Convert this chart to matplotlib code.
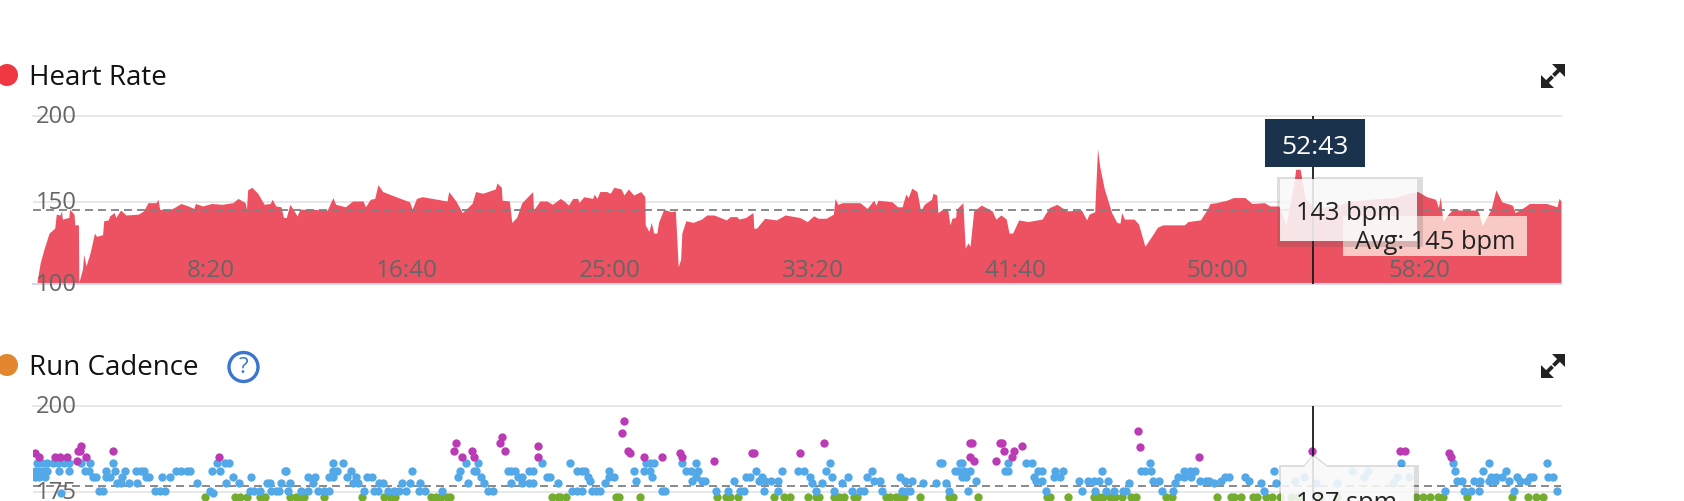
import numpy as np
import matplotlib
matplotlib.use("Agg")
import matplotlib.pyplot as plt
from matplotlib.patches import Circle, Polygon, Rectangle
from matplotlib.transforms import ScaledTranslation

plt.rcParams['font.family'] = ['Open Sans', 'DejaVu Sans']

W, H = 1684, 502
RED = "#ec5261"
GREY_TXT = "#666666"
GRID = "#e8e8e8"

# x tick labels, in seconds
tick_secs = [499, 985, 1490, 1995, 2499, 3003, 3505]
tick_labels = ["8:20", "16:40", "25:00", "33:20", "41:40", "50:00", "58:20"]
cursor_sec = 3239
avg_hr = 145
avg_cadence = 176.7

# heart rate
hr_t = [65, 74, 83, 96, 110, 114, 123, 127, 129, 145, 147, 158, 160, 169, 170, 179, 182, 188, 198, 209,
        214, 229, 232, 243, 247, 258, 262, 274, 287, 318, 331, 342, 362, 367, 371, 393, 407, 424, 442, 456,
        460, 478, 500, 526, 553, 566, 584, 587, 590, 600, 615, 631, 646, 651, 660, 673, 679, 686, 695, 713,
        720, 748, 788, 802, 809, 833, 851, 877, 883, 895, 906, 914, 926, 953, 993, 999, 1010, 1024, 1086, 1090,
        1108, 1117, 1124, 1148, 1157, 1175, 1206, 1210, 1221, 1223, 1241, 1247, 1259, 1272, 1299, 1301, 1317, 1334, 1348, 1368,
        1377, 1388, 1399, 1411, 1414, 1426, 1448, 1452, 1459, 1466, 1483, 1492, 1501, 1519, 1526, 1537, 1550, 1568, 1578, 1579,
        1588, 1594, 1600, 1608, 1612, 1625, 1643, 1654, 1661, 1667, 1670, 1680, 1698, 1719, 1732, 1750, 1781, 1790, 1807, 1812,
        1829, 1847, 1849, 1856, 1876, 1905, 1927, 1963, 1982, 1998, 2009, 2029, 2047, 2051, 2058, 2069, 2113, 2131, 2147, 2153,
        2158, 2193, 2207, 2218, 2227, 2233, 2242, 2255, 2264, 2273, 2291, 2295, 2304, 2307, 2322, 2331, 2337, 2342, 2351, 2353,
        2369, 2375, 2382, 2387, 2396, 2415, 2442, 2451, 2464, 2477, 2484, 2493, 2508, 2531, 2566, 2584, 2603, 2628, 2664, 2677,
        2683, 2697, 2704, 2710, 2721, 2739, 2752, 2760, 2764, 2771, 2795, 2806, 2822, 2840, 2853, 2866, 2920, 2929, 2960, 2977,
        2984, 3000, 3026, 3042, 3053, 3071, 3088, 3119, 3133, 3155, 3173, 3193, 3197, 3208, 3221, 3244, 3293, 3337, 3381, 3443,
        3479, 3501, 3523, 3545, 3552, 3557, 3563, 3576, 3590, 3603, 3648, 3652, 3661, 3683, 3695, 3710, 3736, 3743, 3767, 3778,
        3821, 3847, 3852, 3857]
hr_v = [100, 113, 121, 131, 134, 142.5, 142, 144.5, 139.5, 140.5, 145.5, 142.5, 136, 136, 101, 109, 118, 111, 119, 131,
        129, 130, 138.5, 139, 141.5, 143.5, 140.5, 145, 142, 142.5, 144.5, 149.5, 149.5, 151.5, 145.5, 145, 146.5, 149, 147.5, 146,
        149, 147.5, 149, 148.5, 149.5, 152, 149.5, 145.5, 157, 158.5, 155, 148.5, 149, 151.5, 147.5, 147, 140.5, 140.5, 148.5, 141.5,
        145.5, 145.5, 145, 152.5, 148.5, 147, 150.5, 150.5, 147, 151.5, 152, 160, 156, 153.5, 150, 145.5, 152, 153, 150.5, 156,
        150.5, 146.5, 143.5, 149, 156, 155, 157.5, 161, 158.5, 151, 150.5, 137.5, 140.5, 149.5, 156, 145, 150.5, 150.5, 148.5, 152,
        150.5, 148, 152, 152, 149.5, 153, 152, 154.5, 152, 156, 156, 155, 158.5, 157.5, 154, 157.5, 154, 156, 153, 136,
        132, 137.5, 131, 131, 137.5, 145.5, 144, 144.5, 110.5, 115, 131, 138.5, 137.5, 139.5, 142, 142, 139, 141, 141, 139.5,
        140.5, 143.5, 134, 134, 140, 139, 142, 140.5, 138, 141.5, 140, 140, 142.5, 152, 148.5, 149.5, 149.5, 146, 151, 148,
        151, 150, 147, 147, 154.5, 152.5, 158, 156, 144.5, 148.5, 151.5, 155, 154, 143.5, 146, 146, 136, 140, 140.5, 145.5,
        149.5, 122, 125, 123, 144.5, 148, 144.5, 139.5, 142, 139.5, 131, 131, 139, 138, 139.5, 146.5, 148.5, 144.5, 145, 139,
        142.5, 144, 181, 170, 157.5, 143.5, 137.5, 137, 143.5, 139.5, 139.5, 136.5, 123, 129.5, 134.5, 136, 136, 138, 139, 145.5,
        149, 149.5, 151, 152.5, 152.5, 152.5, 149, 149.5, 147.5, 147.5, 136, 161.5, 169, 169, 151.5, 146.5, 147.5, 150.5, 151.5, 152.5,
        155, 156, 153, 151.5, 146.5, 153, 138, 142.5, 146, 145, 145, 143.5, 135.5, 145.5, 157, 150, 148, 143.5, 147, 149,
        149, 147, 152, 150.5]

# cadence dots
purple_t = [61, 71, 110, 123, 141, 165, 169, 175, 173, 189, 254, 518, 1109, 1104, 1124, 1149, 1154, 1223, 1218, 1229,
            1313, 1313, 1527, 1522, 1537, 1542, 1577, 1621, 1665, 1671, 1750, 1845, 1850, 1964, 2024, 2386, 2391, 2386, 2397, 2461,
            2467, 2471, 2496, 2491, 2451, 2516, 2804, 2809, 2957, 3238, 3457, 3470, 3578, 3584]
purple_v = [186.3, 185.2, 185.2, 185.2, 185.2, 184, 186.9, 188.2, 186.9, 185.2, 186.9, 185.2, 189.2, 186.9, 185.2, 186.9, 185.2, 191, 189.2, 186.9,
            188.2, 185.2, 195.6, 192.2, 186.9, 186.2, 185.2, 185.2, 186.3, 185.2, 184, 186.3, 186.3, 186.3, 189.2, 189.2, 189.2, 185.2, 184, 189.2,
            189.2, 186.9, 186.9, 185.2, 184, 188.2, 192.7, 188.1, 185.2, 186.9, 186.9, 186.9, 186.3, 185.2]

blue_183 = [65, 78, 92, 105, 118, 132, 145, 176, 198, 254, 513, 533, 544, 802, 826, 1134, 1164, 1323, 1393, 1581,
            1590, 1601, 1671, 1705, 2038, 2313, 2318, 2362, 2366, 2482, 2526, 2540, 2834, 3460, 3588, 3678, 3821]
blue_181 = [61, 70, 83, 92, 120, 145, 185, 196, 238, 260, 284, 312, 324, 331, 411, 424, 438, 447, 502, 522,
            682, 686, 802, 811, 846, 1000, 1119, 1157, 1152, 1237, 1245, 1254, 1299, 1290, 1408, 1421, 1428, 1488, 1552, 1577,
            1590, 1680, 1692, 1711, 1854, 1919, 1958, 1974, 2029, 2143, 2349, 2358, 2371, 2386, 2475, 2482, 2557, 2566, 2599, 2619,
            2714, 2813, 2822, 2838, 2918, 2933, 2946, 3144, 3337, 3377, 3594, 3663, 3721]
blue_179 = [61, 70, 87, 212, 205, 247, 238, 278, 345, 336, 378, 398, 553, 598, 740, 757, 802, 793, 837, 859,
            886, 899, 1114, 1170, 1272, 1263, 1334, 1343, 1437, 1501, 1490, 1596, 1705, 1829, 1840, 1869, 1989, 2043, 2083, 2131,
            2213, 2366, 2378, 2546, 2595, 2610, 2905, 2920, 2937, 3022, 3031, 3071, 3217, 3368, 3448, 3479, 3683, 3696, 3710, 3747,
            3781, 3788, 3825, 3836]
blue_178 = [1442, 1556, 1696, 1719, 1727, 1800, 1861, 1878, 1892, 1909, 2149, 2162, 2224, 2242, 2401, 2550, 2566, 2659, 2680, 2695,
            2708, 2730, 2842, 2858, 2960, 2973, 2982, 3011, 3081, 3195, 3599, 3610, 3641, 3656, 3679, 3692, 3727, 3756, 3772]
blue_177 = [265, 274, 296, 314, 464, 537, 568, 638, 646, 673, 695, 753, 851, 864, 917, 926, 975, 993, 1019, 1139,
            1179, 1245, 1272, 1299, 1290, 1361, 1479, 1994, 2019, 2069, 2271, 2302, 2326, 2782, 2898, 2993, 3111, 3148, 3248, 3301,
            3439]
blue_175 = [220, 229, 360, 371, 385, 496, 595, 606, 620, 648, 660, 669, 691, 722, 740, 766, 780, 793, 880, 904,
            913, 939, 953, 966, 984, 1015, 1032, 1074, 1188, 1201, 1397, 1408, 1421, 1446, 1457, 1466, 1621, 1627, 1755, 1785,
            1814, 1825, 1874, 1909, 2003, 2049, 2093, 2114, 2124, 2167, 2217, 2229, 2238, 2335, 2382, 2575, 2665, 2699, 2724, 2745,
            2767, 2775, 2864, 2893, 3119, 3569, 3615, 3634, 3652, 3741, 3847]
blue_174 = [125, 504]
blue_rows = [blue_183, blue_181, blue_179, blue_178, blue_177, blue_175, blue_174]
blue_levels = [183.3, 181, 179.3, 178.2, 177.5, 175.3, 174.5]

green_t = [485, 558, 571, 589, 620, 633, 695, 709, 722, 731, 781, 875, 930, 944, 957, 1046, 1059, 1072, 1086, 1093,
           1347, 1361, 1368, 1381, 1506, 1514, 1567, 1758, 1781, 1790, 1810, 1900, 1924, 1939, 1985, 2003, 2011, 2049, 2060, 2074,
           2098, 2105, 2177, 2189, 2202, 2211, 2222, 2262, 2335, 2344, 2406, 2579, 2586, 2630, 2695, 2708, 2717, 2735, 2748, 2764,
           2787, 2800, 2875, 2889, 3001, 3035, 3044, 3060, 3090, 3102, 3124, 3137, 3159, 3185, 3203, 3257, 3301, 3497, 3514, 3532,
           3550, 3563, 3623, 3736, 3776, 3794, 3812]
green_v = 173.4


def px(x0, y0, x1, y1):
    # pixel box (top-left origin) to figure fraction
    return [x0 / W, 1 - y1 / H, (x1 - x0) / W, (y1 - y0) / H]


def shift_ylabels(ax, pixels=3):
    off = ScaledTranslation(0, pixels / 100, ax.figure.dpi_scale_trans)
    for lab in ax.get_yticklabels():
        lab.set_transform(lab.get_transform() + off)
        lab.set_horizontalalignment("right")


def style_axes(ax):
    for s in ax.spines.values():
        s.set_visible(False)
    ax.set_xlim(56, 3857)
    ax.set_xticks(tick_secs)
    ax.set_xticklabels(tick_labels)
    ax.tick_params(axis="x", length=0, pad=-19, labelsize=17.5, labelcolor=GREY_TXT)
    ax.tick_params(axis="y", length=0, pad=-31.5, labelsize=17.2, labelcolor=GREY_TXT)
    ax.set_axisbelow(False)
    ax.patch.set_alpha(0)


fig = plt.figure(figsize=(W / 100, H / 100), dpi=100)

# heart rate panel
ax = fig.add_axes(px(33, 117, 1561, 285))
hr_stops = [100, 150, 200]
hr_px = [0, 82.3, 168.3]
ax.set_yscale("function", functions=(lambda v: np.interp(v, hr_stops, hr_px),
                                     lambda p: np.interp(p, hr_px, hr_stops)))
ax.set_ylim(100, 200)
ax.set_yticks([100, 150, 200])
ax.set_yticklabels(["100", "150", "200"])
style_axes(ax)
ax.axhline(200, color=GRID, lw=1.4, zorder=0.5, clip_on=False)
ax.axhline(150, color=GRID, lw=1.4, zorder=0.5)
ax.fill_between(hr_t, 100, hr_v, color=RED, lw=0, zorder=1)
ax.axhline(100, color="#d4d8e8", lw=1.5, zorder=1.5, clip_on=False)
ax.axhline(avg_hr, color="#808080", lw=1.3, ls=(0, (4.4, 2.8)), zorder=2)
ax.axvline(cursor_sec, color="#1a1a1a", lw=1.3, zorder=2.2)
shift_ylabels(ax)

# cadence panel, cut off by the bottom of the picture
ax2 = fig.add_axes(px(33, 407, 1561, 502))
ax2.set_ylim(172.3, 200)
ax2.set_yticks([175, 200])
ax2.set_yticklabels(["175", "200"])
style_axes(ax2)
ax2.set_xticks([])
ax2.axhline(200, color=GRID, lw=1.4, zorder=0.5, clip_on=False)
ax2.axhline(175, color=GRID, lw=1.4, zorder=0.5)
ax2.axhline(avg_cadence, color="#808080", lw=1.3, ls=(0, (4.4, 2.8)), zorder=1)
dot = 36
ax2.scatter(green_t, [green_v] * len(green_t), s=dot, color="#74ac2f", lw=0, zorder=2)
for level, row in zip(blue_levels, blue_rows):
    ax2.scatter(row, [level] * len(row), s=dot, color="#53a8e8", lw=0, zorder=2)
ax2.scatter(purple_t, purple_v, s=dot, color="#bb3bb5", lw=0, zorder=2)
ax2.axvline(cursor_sec, color="#1a1a1a", lw=1.3, zorder=2.2)
shift_ylabels(ax2)

# overlay in pixel coordinates for titles, icons and tooltips
ov = fig.add_axes([0, 0, 1, 1])
ov.set_xlim(0, W)
ov.set_ylim(H, 0)
ov.axis("off")
ov.patch.set_alpha(0)


def expand_icon(cy, cx=1553):
    c = "#222222"
    ov.add_patch(Polygon([(cx + 12, cy - 12), (cx + 12, cy + 1), (cx - 1, cy - 12)], color=c, lw=0))
    ov.add_patch(Polygon([(cx - 12, cy + 12), (cx - 12, cy - 1), (cx + 1, cy + 12)], color=c, lw=0))
    ov.plot([cx + 6, cx + 0.5], [cy - 6, cy - 0.5], color=c, lw=2.8, solid_capstyle="butt")
    ov.plot([cx - 6, cx - 0.5], [cy + 6, cy + 0.5], color=c, lw=2.8, solid_capstyle="butt")


ov.add_patch(Circle((7, 76), 11, color="#ee3842", lw=0))
ov.text(29, 78, "Heart Rate", fontsize=20, color="#111111", va="center")
expand_icon(77)

ov.add_patch(Circle((7, 366), 11, color="#e2872f", lw=0))
ov.text(29, 368, "Run Cadence", fontsize=20, color="#111111", va="center")
ov.add_patch(Circle((243.5, 368), 14.5, fc="white", ec="#3a76d0", lw=2.4))
ov.text(243.5, 367.5, "?", fontsize=16, color="#3a76d0", ha="center", va="center")
expand_icon(367)

# time flag
ov.add_patch(Rectangle((1265, 120), 100, 48, color="#1b324d", lw=0))
ov.text(1314.5, 148, "52:43", fontsize=19, color="white", ha="center", va="center")

# average label, then the tooltip over it
ov.add_patch(Rectangle((1343, 217), 184, 40, color="#fffcf0", alpha=0.7, lw=0))
ov.text(1435, 243, "Avg: 145 bpm", fontsize=18.3, color="#222222", ha="center", va="center")
ov.add_patch(Rectangle((1277, 178), 146, 70, color="#555555", alpha=0.2, lw=0))
ov.add_patch(Rectangle((1280, 180), 137, 62, color="white", alpha=0.85, lw=0))
ov.text(1348.5, 214, "143 bpm", fontsize=18.3, color="#222222", ha="center", va="center")

# cadence tooltip with the small pointer, runs off the bottom
notch = [(1279, 466), (1304, 466), (1313, 455), (1327, 466), (1419, 466), (1419, 510), (1279, 510)]
box = [(1281, 468), (1304, 468), (1313, 457), (1327, 468), (1414, 468), (1414, 510), (1281, 510)]
ov.add_patch(Polygon(notch, color="#555555", alpha=0.2, lw=0))
ov.add_patch(Polygon(box, color="white", alpha=0.85, lw=0))
ov.text(1347, 504, "187 spm", fontsize=18.3, color="#222222", ha="center", va="center")

fig.savefig("out.png", dpi=100)
